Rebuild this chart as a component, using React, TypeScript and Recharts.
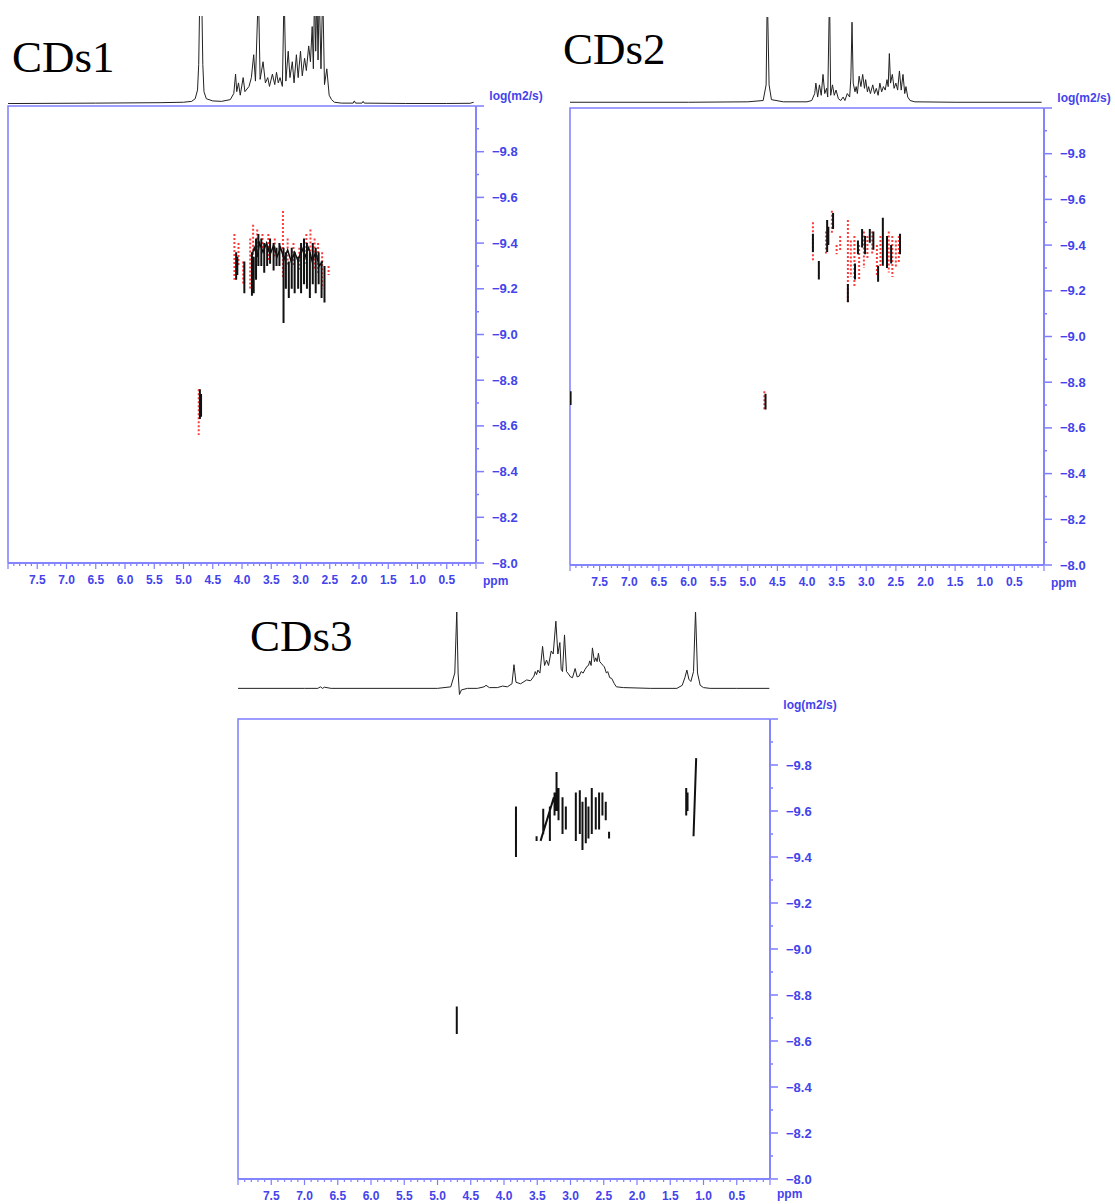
import React from "react";
import { ComposedChart, LineChart, Line, XAxis, YAxis, ReferenceArea } from "recharts";

// colours used by the DOSY plotting program
const AXIS_BLUE = "#7d7dff";
const TEXT_BLUE = "#4343ec";
const SANS = "'Liberation Sans', Arial, sans-serif";

// tick labels
const xLabels = [7.5, 7.0, 6.5, 6.0, 5.5, 5.0, 4.5, 4.0, 3.5, 3.0, 2.5, 2.0, 1.5, 1.0, 0.5];
const yLabels = [-9.8, -9.6, -9.4, -9.2, -9.0, -8.8, -8.6, -8.4, -8.2, -8.0];

// minor tick positions (every 0.1)
const xTicks = Array.from({ length: 81 }, (_, i) => i / 10);
const yTicks = Array.from({ length: 21 }, (_, i) => Math.round(-100 + i) / 10);

// 1H spectra on top of each DOSY map: [ppm, intensity]
const cds1Spectrum = [
  [8.0, 0.5], [6.5, 1], [5.4, 1.5], [5.0, 2], [4.86, 3], [4.8, 6], [4.76, 16], [4.74, 45],
  [4.72, 130], [4.69, 130], [4.67, 45], [4.65, 14], [4.61, 6], [4.5, 3.5], [4.35, 3], [4.2, 5],
  [4.14, 12], [4.11, 34], [4.09, 14], [4.06, 24], [4.03, 10], [3.98, 30], [3.95, 14], [3.88, 20],
  [3.84, 30], [3.80, 56], [3.77, 26], [3.72, 130], [3.69, 28], [3.64, 48], [3.6, 24], [3.56, 30],
  [3.53, 20], [3.48, 34], [3.44, 22], [3.41, 36], [3.38, 24], [3.35, 30], [3.31, 20],
  [3.28, 130], [3.25, 26], [3.21, 60], [3.18, 30], [3.14, 48], [3.11, 24], [3.07, 56],
  [3.04, 30], [3.0, 60], [2.97, 32], [2.93, 52], [2.9, 38], [2.86, 66], [2.83, 48], [2.8, 88],
  [2.78, 40], [2.76, 130], [2.74, 60], [2.72, 130], [2.7, 50], [2.68, 130], [2.65, 40],
  [2.62, 130], [2.59, 22], [2.55, 40], [2.51, 10], [2.47, 5], [2.42, 2], [2.3, 1],
  [2.1, 1], [2.08, 3.5], [2.06, 1], [1.95, 1], [1.93, 3], [1.91, 1], [1.2, 0.6], [0.5, 0.6],
  [0.1, 0.8], [0.04, 2],
];

const cds2Spectrum = [
  [8.0, 2], [6.0, 2], [5.0, 2.5], [4.74, 4], [4.69, 22], [4.67, 130], [4.64, 22], [4.6, 5],
  [4.4, 2.5], [4.0, 2.5], [3.92, 4], [3.87, 12], [3.85, 24], [3.82, 8], [3.79, 22], [3.76, 10],
  [3.73, 34], [3.7, 12], [3.67, 18], [3.65, 8], [3.62, 130], [3.6, 10], [3.57, 22], [3.54, 10],
  [3.51, 16], [3.47, 6], [3.43, 4], [3.39, 8], [3.36, 4], [3.32, 12], [3.28, 8], [3.26, 30],
  [3.24, 94], [3.22, 24], [3.19, 14], [3.17, 20], [3.15, 12], [3.12, 32], [3.09, 20],
  [3.06, 34], [3.03, 18], [3.01, 28], [2.98, 14], [2.96, 20], [2.93, 12], [2.89, 22],
  [2.86, 12], [2.83, 18], [2.8, 10], [2.77, 24], [2.74, 14], [2.71, 20], [2.68, 16], [2.65, 28],
  [2.63, 20], [2.61, 58], [2.59, 24], [2.56, 34], [2.53, 18], [2.5, 24], [2.47, 16], [2.44, 38],
  [2.41, 16], [2.38, 34], [2.35, 12], [2.33, 20], [2.3, 8], [2.26, 4], [2.18, 2.5], [1.5, 2],
  [0.04, 2],
];

const cds3Spectrum = [
  [8.0, 0], [7.0, 0], [6.8, 0], [6.76, 2], [6.73, 0], [6.7, 1.5], [6.6, 0], [5.0, 0],
  [4.8, 2], [4.74, 20], [4.71, 102], [4.69, 20], [4.67, -8], [4.64, -2], [4.55, 0], [4.4, 0],
  [4.3, 2], [4.27, 4], [4.22, 1], [4.1, 1], [4.02, 3], [3.95, 2], [3.88, 6], [3.85, 31],
  [3.82, 8], [3.75, 6], [3.66, 11], [3.6, 10], [3.55, 16], [3.53, 22], [3.51, 18], [3.49, 24],
  [3.46, 20], [3.42, 55], [3.39, 30], [3.36, 37], [3.33, 30], [3.29, 49], [3.26, 45],
  [3.22, 88], [3.19, 45], [3.16, 60], [3.14, 25], [3.12, 22], [3.09, 70], [3.06, 22],
  [3.04, 20], [3.0, 15], [2.97, 14], [2.93, 26], [2.9, 15], [2.87, 16], [2.84, 22], [2.81, 20],
  [2.78, 25], [2.75, 29], [2.73, 30], [2.71, 36], [2.69, 30], [2.67, 53], [2.64, 35],
  [2.62, 40], [2.6, 35], [2.58, 46], [2.56, 35], [2.54, 33], [2.51, 30], [2.49, 28], [2.46, 20],
  [2.44, 22], [2.41, 14], [2.38, 13], [2.34, 6], [2.31, 2], [2.2, 1], [1.8, 0], [1.4, 0],
  [1.32, 4], [1.28, 14], [1.25, 24], [1.22, 12], [1.19, 9], [1.15, 22], [1.12, 102],
  [1.09, 20], [1.05, 4], [1.0, 1], [0.9, 0], [0.5, 0], [0.01, 0],
];

// DOSY cross peaks: [ppm, logD from, logD to, ppm at the "to" end (optional)]
const cds1Black = [
  [4.72, -8.76, -8.63], [4.7, -8.74, -8.64],
  [4.1, -9.36, -9.24], [4.08, -9.34, -9.26], [3.96, -9.32, -9.18], [3.83, -9.36, -9.17],
  [3.8, -9.34, -9.18], [3.76, -9.42, -9.24], [3.72, -9.44, -9.3], [3.67, -9.42, -9.3],
  [3.62, -9.4, -9.27], [3.57, -9.39, -9.3], [3.52, -9.42, -9.31], [3.46, -9.4, -9.28],
  [3.41, -9.38, -9.3], [3.36, -9.4, -9.3], [3.29, -9.38, -9.05], [3.25, -9.36, -9.2],
  [3.2, -9.32, -9.16], [3.15, -9.38, -9.2], [3.1, -9.36, -9.18], [3.04, -9.34, -9.2],
  [2.99, -9.4, -9.18], [2.94, -9.42, -9.22], [2.89, -9.4, -9.2], [2.84, -9.36, -9.16],
  [2.79, -9.4, -9.22], [2.74, -9.38, -9.18], [2.69, -9.36, -9.22], [2.64, -9.32, -9.16],
  [2.59, -9.3, -9.14],
];
const cds1Ridge = [
  [3.84, -9.34], [3.79, -9.38], [3.74, -9.34], [3.7, -9.4], [3.64, -9.36], [3.58, -9.4],
  [3.52, -9.35], [3.46, -9.39], [3.4, -9.34], [3.34, -9.38], [3.28, -9.33], [3.22, -9.37],
  [3.16, -9.32], [3.1, -9.36], [3.04, -9.32], [2.98, -9.38], [2.92, -9.34], [2.86, -9.38],
  [2.8, -9.32], [2.74, -9.36], [2.68, -9.3], [2.62, -9.32],
];
const cds1Red = [
  [4.74, -8.76, -8.56], [4.13, -9.44, -9.24], [4.06, -9.4, -9.3], [3.98, -9.32, -9.22],
  [3.86, -9.42, -9.2], [3.81, -9.48, -9.3], [3.74, -9.46, -9.34], [3.65, -9.44, -9.36],
  [3.55, -9.44, -9.32], [3.44, -9.42, -9.34], [3.3, -9.54, -9.25], [3.22, -9.42, -9.3],
  [3.12, -9.4, -9.3], [3.02, -9.38, -9.28], [2.9, -9.44, -9.3], [2.83, -9.46, -9.36],
  [2.76, -9.42, -9.28], [2.7, -9.4, -9.26], [2.63, -9.36, -9.2], [2.52, -9.3, -9.26],
];

const cds2Black = [
  [7.99, -8.76, -8.7], [4.7, -8.75, -8.68],
  [3.9, -9.45, -9.37], [3.8, -9.33, -9.25], [3.66, -9.51, -9.37], [3.64, -9.48, -9.4],
  [3.56, -9.54, -9.47], [3.31, -9.23, -9.15], [3.19, -9.32, -9.25], [3.14, -9.42, -9.36],
  [3.07, -9.47, -9.39], [3.02, -9.44, -9.36], [2.94, -9.47, -9.41], [2.88, -9.46, -9.38],
  [2.8, -9.31, -9.24], [2.72, -9.52, -9.31], [2.65, -9.44, -9.3], [2.58, -9.4, -9.32],
  [2.43, -9.45, -9.36],
];
const cds2Red = [
  [4.72, -8.76, -8.68], [3.9, -9.5, -9.33], [3.68, -9.46, -9.36], [3.58, -9.55, -9.45],
  [3.5, -9.4, -9.36], [3.44, -9.44, -9.37], [3.31, -9.51, -9.15], [3.26, -9.42, -9.26],
  [3.2, -9.44, -9.22], [3.12, -9.4, -9.25], [3.04, -9.46, -9.3], [2.98, -9.44, -9.34],
  [2.9, -9.46, -9.36], [2.82, -9.4, -9.26], [2.76, -9.44, -9.3], [2.62, -9.46, -9.28],
  [2.56, -9.44, -9.26], [2.5, -9.42, -9.3], [2.45, -9.44, -9.32],
];

const cds3Black = [
  [4.71, -8.75, -8.63], [3.82, -9.62, -9.4], [3.51, -9.49, -9.47], [3.45, -9.47, -9.66, 3.25],
  [3.41, -9.61, -9.5], [3.31, -9.62, -9.47], [3.24, -9.68, -9.58], [3.21, -9.77, -9.6],
  [3.18, -9.7, -9.56], [3.12, -9.66, -9.5], [3.07, -9.62, -9.52], [2.92, -9.68, -9.47],
  [2.86, -9.69, -9.5], [2.82, -9.64, -9.43], [2.77, -9.66, -9.46], [2.73, -9.62, -9.48],
  [2.68, -9.7, -9.5], [2.62, -9.66, -9.52], [2.57, -9.68, -9.52], [2.52, -9.68, -9.58],
  [2.47, -9.64, -9.56], [2.42, -9.51, -9.48], [1.26, -9.7, -9.58], [1.24, -9.68, -9.6],
  [1.11, -9.83, -9.49, 1.15],
];
const cds3Red: number[][] = [];

const segPoints = (segs: number[][]) => {
  const pts: { x: number; y: number | null }[] = [];
  segs.forEach(([p, a, b, p2]) => {
    pts.push({ x: p, y: a }, { x: p2 ?? p, y: b }, { x: p, y: null });
  });
  return pts;
};
const pairPoints = (pairs: number[][]) => pairs.map(([x, y]) => ({ x, y }));

const YTick = (props: any) => {
  const { x, y, payload } = props;
  const v = payload.value;
  const major = Math.round(v * 10) % 2 === 0;
  const labelled = yLabels.some((l) => Math.abs(l - v) < 1e-6);
  return (
    <g>
      <line x1={x + 1} x2={x + (major ? 8 : 3)} y1={y} y2={y} stroke={AXIS_BLUE} strokeWidth={1.5} />
      {labelled && (
        <text x={x + 16} y={y + 4.5} fill={TEXT_BLUE} fontSize={13} fontWeight="bold" fontFamily={SANS}>
          {"\u2212" + Math.abs(v).toFixed(1)}
        </text>
      )}
    </g>
  );
};

const XTick = (props: any) => {
  const { x, y, payload } = props;
  const v = payload.value;
  const major = Math.round(v * 10) % 5 === 0;
  const labelled = xLabels.some((l) => Math.abs(l - v) < 1e-6);
  return (
    <g>
      <line x1={x} x2={x} y1={y + 1} y2={y + (major ? 6 : 3)} stroke={AXIS_BLUE} strokeWidth={1.2} />
      {labelled && (
        <text x={x} y={y + 21} textAnchor="middle" fill={TEXT_BLUE} fontSize={12} fontWeight="bold" fontFamily={SANS}>
          {v.toFixed(1)}
        </text>
      )}
    </g>
  );
};

interface PanelProps {
  title: string;
  titleX: number;
  titleBaseline: number;
  frame: { l: number; t: number; r: number; b: number };
  spec: { t: number; b: number; domain: number[] };
  spectrum: number[][];
  black: number[][];
  red: number[][];
  ridge?: number[][];
  labelOffset: number;
  ppmDy: number;
}

function Panel(p: PanelProps) {
  const { frame, spec } = p;
  const w = frame.r - frame.l;
  const h = frame.b - frame.t;
  return (
    <>
      <div
        style={{
          position: "absolute",
          left: p.titleX,
          top: p.titleBaseline - 38,
          fontFamily: "'Liberation Serif', 'Times New Roman', serif",
          fontSize: 45,
          lineHeight: "45px",
          color: "#000",
          whiteSpace: "nowrap",
        }}
      >
        {p.title}
      </div>

      {/* 1D spectrum on top */}
      <div style={{ position: "absolute", left: frame.l, top: spec.t }}>
        <LineChart width={w} height={spec.b - spec.t} margin={{ top: 0, right: 0, bottom: 0, left: 0 }}>
          <XAxis type="number" dataKey="x" domain={[0, 8]} reversed hide allowDataOverflow />
          <YAxis type="number" domain={spec.domain} hide allowDataOverflow />
          <Line
            data={pairPoints(p.spectrum)}
            dataKey="y"
            type="linear"
            stroke="#222"
            strokeWidth={1}
            dot={false}
            isAnimationActive={false}
          />
        </LineChart>
      </div>

      {/* DOSY map */}
      <div style={{ position: "absolute", left: frame.l - 8, top: frame.t - 20 }}>
        <ComposedChart width={w + 88} height={h + 60} margin={{ top: 20, right: 0, bottom: 10, left: 8 }}>
          <XAxis
            type="number"
            dataKey="x"
            domain={[0, 8]}
            reversed
            allowDataOverflow
            ticks={xTicks}
            interval={0}
            tickSize={0}
            tickMargin={0}
            tickLine={false}
            tick={<XTick />}
            height={30}
            axisLine={{ stroke: AXIS_BLUE, strokeWidth: 1.5 }}
            label={{ value: "ppm", position: "right", offset: 7, fill: TEXT_BLUE, fontSize: 12, fontWeight: "bold", fontFamily: SANS, dy: p.ppmDy }}
          />
          <YAxis
            type="number"
            orientation="right"
            domain={[-10, -8]}
            reversed
            allowDataOverflow
            ticks={yTicks}
            interval={0}
            tickSize={0}
            tickMargin={0}
            tickLine={false}
            tick={<YTick />}
            width={80}
            axisLine={{ stroke: AXIS_BLUE, strokeWidth: 1.5 }}
            label={{ value: "log(m2/s)", position: "top", offset: p.labelOffset, fill: TEXT_BLUE, fontSize: 12, fontWeight: "bold", fontFamily: SANS }}
          />
          <ReferenceArea x1={8} x2={0} y1={-10} y2={-8} fill="none" stroke={AXIS_BLUE} strokeWidth={1.5} ifOverflow="visible" />
          <Line
            data={segPoints(p.red)}
            dataKey="y"
            type="linear"
            stroke="#ff1a1a"
            strokeWidth={2}
            strokeDasharray="2 2"
            strokeOpacity={0.85}
            dot={false}
            connectNulls={false}
            isAnimationActive={false}
          />
          {p.ridge && (
            <Line
              data={pairPoints(p.ridge)}
              dataKey="y"
              type="linear"
              stroke="#111"
              strokeWidth={1.5}
              dot={false}
              isAnimationActive={false}
            />
          )}
          <Line
            data={segPoints(p.black)}
            dataKey="y"
            type="linear"
            stroke="#111"
            strokeWidth={2}
            dot={false}
            connectNulls={false}
            isAnimationActive={false}
          />
        </ComposedChart>
      </div>
    </>
  );
}

export default function App() {
  return (
    <div
      style={{
        position: "absolute",
        left: 0,
        top: 0,
        width: 1115,
        height: 1204,
        overflow: "hidden",
        background: "#fff",
      }}
    >
      <Panel
        title="CDs1"
        titleX={12}
        titleBaseline={73}
        frame={{ l: 8, t: 106, r: 476, b: 563 }}
        spec={{ t: 16, b: 104, domain: [0, 100] }}
        spectrum={cds1Spectrum}
        black={cds1Black}
        red={cds1Red}
        ridge={cds1Ridge}
        labelOffset={6}
        ppmDy={3}
      />
      <Panel
        title="CDs2"
        titleX={563}
        titleBaseline={65}
        frame={{ l: 570, t: 108, r: 1044, b: 565 }}
        spec={{ t: 17, b: 104, domain: [0, 100] }}
        spectrum={cds2Spectrum}
        black={cds2Black}
        red={cds2Red}
        labelOffset={6}
        ppmDy={3}
      />
      <Panel
        title="CDs3"
        titleX={250}
        titleBaseline={652}
        frame={{ l: 238, t: 719, r: 770, b: 1179 }}
        spec={{ t: 612, b: 696, domain: [-10, 100] }}
        spectrum={cds3Spectrum}
        black={cds3Black}
        red={cds3Red}
        labelOffset={10}
        ppmDy={0}
      />
    </div>
  );
}
